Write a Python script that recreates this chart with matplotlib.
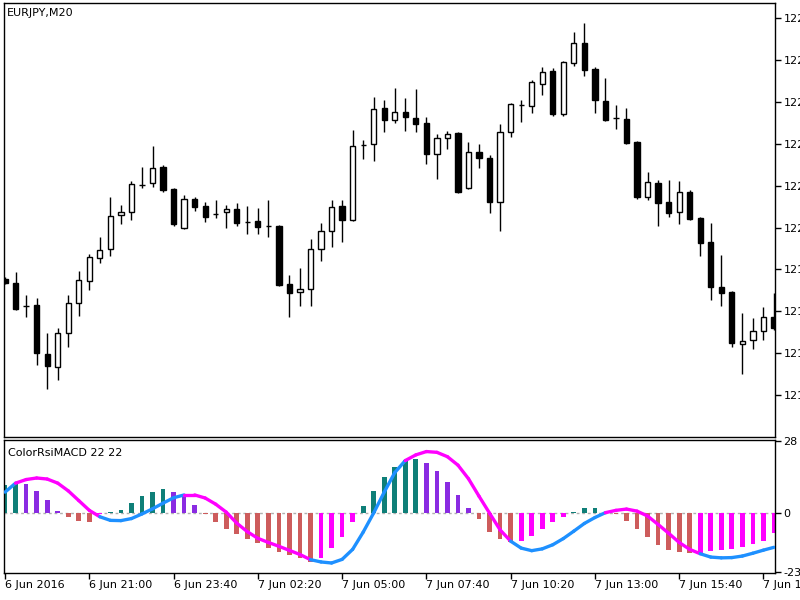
import matplotlib
matplotlib.use('Agg')
import matplotlib.pyplot as plt
from matplotlib.patches import Rectangle
from matplotlib.collections import LineCollection
import numpy as np

plt.rcParams['font.family'] = ['DejaVu Sans']

symbol_label = 'EURJPY,M20'
indicator_label = 'ColorRsiMACD 22 22'

# OHLC per bar (EURJPY M20)
opens = [121.877, 121.868, 121.813, 121.815, 121.698, 121.667, 121.748, 121.820, 121.872, 121.927,
         121.949, 122.030, 122.037, 122.101, 122.106, 122.144, 122.092, 121.999, 122.068, 122.051,
         122.032, 122.037, 122.044, 122.013, 122.016, 122.004, 122.004, 121.865, 121.846, 121.853,
         121.949, 121.992, 122.051, 122.018, 122.197, 122.199, 122.285, 122.257, 122.276, 122.261,
         122.249, 122.175, 122.214, 122.226, 122.094, 122.180, 122.166, 122.061, 122.228, 122.292,
         122.290, 122.342, 122.374, 122.271, 122.393, 122.440, 122.378, 122.302, 122.261, 122.259,
         122.204, 122.073, 122.106, 122.061, 122.037, 122.085, 122.023, 121.965, 121.858, 121.846,
         121.722, 121.732, 121.753, 121.786]
highs = [121.882, 121.894, 121.839, 121.832, 121.748, 121.760, 121.839, 121.896, 121.937, 121.977,
         122.073, 122.054, 122.111, 122.144, 122.195, 122.149, 122.094, 122.078, 122.073, 122.061,
         122.066, 122.054, 122.058, 122.051, 122.047, 122.066, 122.006, 121.887, 121.903, 121.973,
         122.011, 122.066, 122.066, 122.233, 122.209, 122.311, 122.304, 122.333, 122.309, 122.331,
         122.264, 122.223, 122.230, 122.228, 122.204, 122.199, 122.173, 122.247, 122.297, 122.304,
         122.352, 122.383, 122.381, 122.397, 122.467, 122.488, 122.383, 122.357, 122.292, 122.285,
         122.206, 122.132, 122.113, 122.113, 122.111, 122.090, 122.025, 122.011, 121.934, 121.848,
         121.796, 121.784, 121.810, 121.844]
lows = [121.865, 121.803, 121.786, 121.672, 121.615, 121.636, 121.715, 121.789, 121.851, 121.915,
        121.932, 122.008, 122.018, 122.094, 122.097, 122.085, 122.004, 121.996, 122.039, 122.013,
        122.023, 121.999, 122.004, 121.984, 121.984, 121.977, 121.860, 121.786, 121.813, 121.813,
        121.920, 121.953, 121.965, 122.016, 122.163, 122.159, 122.228, 122.249, 122.230, 122.228,
        122.152, 122.116, 122.187, 122.082, 122.092, 122.142, 122.035, 121.992, 122.216, 122.252,
        122.273, 122.316, 122.266, 122.266, 122.385, 122.362, 122.273, 122.254, 122.235, 122.199,
        122.068, 122.066, 122.004, 122.025, 122.008, 122.018, 121.932, 121.827, 121.813, 121.715,
        121.650, 121.710, 121.732, 121.755]
closes = [121.868, 121.806, 121.813, 121.700, 121.669, 121.748, 121.820, 121.875, 121.930, 121.946,
          122.027, 122.037, 122.104, 122.101, 122.142, 122.090, 122.008, 122.068, 122.049, 122.025,
          122.032, 122.044, 122.011, 122.013, 122.001, 122.004, 121.863, 121.844, 121.853, 121.949,
          121.992, 122.049, 122.018, 122.195, 122.197, 122.283, 122.257, 122.276, 122.264, 122.247,
          122.175, 122.214, 122.223, 122.085, 122.180, 122.166, 122.061, 122.228, 122.295, 122.292,
          122.347, 122.371, 122.271, 122.395, 122.440, 122.376, 122.304, 122.257, 122.261, 122.202,
          122.073, 122.109, 122.058, 122.035, 122.085, 122.020, 121.963, 121.858, 121.844, 121.724,
          121.729, 121.753, 121.786, 121.760]

# Indicator histogram values
hist_values = [10.9, 11.4, 11.1, 8.6, 4.9, 0.8, -1.4, -3.0, -3.6, -0.4,
               0.4, 1.3, 3.8, 6.4, 8.0, 9.2, 8.0, 6.4, 2.9, -0.3,
               -3.6, -6.2, -8.2, -10.3, -11.9, -13.5, -15.1, -16.4, -17.7, -19.0,
               -17.4, -13.8, -9.2, -3.6, 2.5, 8.6, 14.1, 18.0, 20.6, 20.9,
               19.3, 16.4, 12.2, 7.0, 1.8, -2.5, -7.3, -10.3, -11.3, -10.8,
               -8.8, -6.2, -3.6, -1.4, 0.3, 1.8, 1.9, 0.5, -0.3, -3.1,
               -6.2, -9.2, -12.5, -14.4, -15.3, -15.7, -15.5, -15.0, -14.4, -14.0,
               -13.4, -12.2, -11.0, -7.8]

# Indicator signal line values
signal_line = [8.1, 11.6, 13.0, 13.6, 13.2, 11.6, 8.6, 4.8, 1.0, -1.5,
               -2.9, -3.0, -2.2, -0.4, 1.6, 3.8, 5.9, 7.0, 7.0, 5.8,
               3.4, 0.3, -4.0, -7.3, -9.9, -11.5, -13.0, -14.6, -16.2, -18.2,
               -19.1, -19.5, -18.1, -14.2, -7.5, 0.0, 8.1, 15.7, 20.4, 22.6,
               23.9, 23.6, 21.9, 18.6, 13.3, 6.5, -0.1, -6.6, -11.0, -13.7,
               -14.7, -14.0, -12.4, -10.0, -7.1, -4.1, -1.8, 0.1, 1.0, 1.5,
               0.7, -1.2, -4.5, -7.9, -11.5, -14.2, -15.9, -17.2, -17.5, -17.4,
               -16.8, -15.7, -14.5, -13.4]

# line colour state for the segment ending at each bar (1 = magenta, 0 = blue)
line_state = [0, 0] + [1] * 8 + [0] * 8 + [1] * 12 + [0] * 9 + [1] * 10 + [0] * 9 + [1] * 9 + [0] * 7

time_labels = ['6 Jun 2016', '6 Jun 21:00', '6 Jun 23:40', '7 Jun 02:20', '7 Jun 05:00',
               '7 Jun 07:40', '7 Jun 10:20', '7 Jun 13:00', '7 Jun 15:40', '7 Jun 18:20']
time_label_bars = [0, 8, 16, 24, 32, 40, 48, 56, 64, 72]

price_ticks = [122.5, 122.4, 122.3, 122.2, 122.1, 122.0, 121.9, 121.8, 121.7, 121.6]
ind_ticks = [28, 0, -23]

W, H = 800, 600
fig = plt.figure(figsize=(8, 6), dpi=100)
fig.patch.set_facecolor('white')

ax = fig.add_axes([4 / W, 1 - 437 / H, 771 / W, 434 / H])
ax2 = fig.add_axes([4 / W, 1 - 573 / H, 771 / W, 133 / H])

n = len(opens)
xs = np.arange(n)

# candlesticks
body_w = 0.5
for i in range(n):
    o, h, l, c = opens[i], highs[i], lows[i], closes[i]
    ax.vlines(i, l, h, color='black', lw=1, zorder=1)
    bottom = min(o, c)
    height = abs(c - o)
    fc = 'black' if c < o else 'white'
    ax.add_patch(Rectangle((i - body_w / 2, bottom), body_w, height,
                           facecolor=fc, edgecolor='black', lw=1, zorder=2))

ax.set_xlim(-0.1, 73.1)
ax.set_ylim(121.500, 122.536)
ax.yaxis.tick_right()
ax.set_yticks(price_ticks)
ax.set_yticklabels([f'{v:.3f}' for v in price_ticks])
ax.set_xticks([])
ax.tick_params(axis='y', direction='out', length=4, width=1, pad=2, labelsize=8, colors='black')
for s in ax.spines.values():
    s.set_linewidth(1)
    s.set_color('black')

# indicator histogram
col_teal, col_purple, col_red, col_mag = '#0F7F78', '#8A2BE2', '#CD5C5C', '#FF00FF'
bar_cols = []
for i, v in enumerate(hist_values):
    prev = hist_values[i - 1] if i > 0 else v
    if v >= 0:
        bar_cols.append(col_teal if v >= prev else col_purple)
    else:
        bar_cols.append(col_red if v <= prev else col_mag)
ax2.bar(xs, hist_values, width=0.45, color=bar_cols, zorder=2, linewidth=0)
ax2.axhline(0, color='#B0B0B0', lw=1, ls=(0, (2, 2)), zorder=1)

pts = np.column_stack([xs, signal_line])
segs = [[pts[j - 1], pts[j]] for j in range(1, n)]
seg_cols = ['#FF00FF' if line_state[j] else '#1E90FF' for j in range(1, n)]
lc = LineCollection(segs, colors=seg_cols, linewidths=2.4, capstyle='round', joinstyle='round', zorder=3)
ax2.add_collection(lc)

ax2.set_xlim(-0.1, 73.1)
ax2.set_ylim(-23.4, 28.4)
ax2.yaxis.tick_right()
ax2.set_yticks(ind_ticks)
ax2.set_yticklabels([str(t) for t in ind_ticks])
ax2.tick_params(axis='y', direction='out', length=4, width=1, pad=2, labelsize=8, colors='black')
ax2.set_xticks(time_label_bars)
ax2.set_xticklabels(time_labels)
ax2.tick_params(axis='x', direction='out', length=4, width=1, pad=1, labelsize=8, colors='black')
for lbl in ax2.get_xticklabels():
    lbl.set_ha('left')
for s in ax2.spines.values():
    s.set_linewidth(1)
    s.set_color('black')

fig.text(7 / W, 1 - 13.5 / H, symbol_label, fontsize=8, va='center', ha='left')
fig.text(8 / W, 1 - 452.5 / H, indicator_label, fontsize=8, va='center', ha='left')

fig.savefig('out.png', dpi=100)
